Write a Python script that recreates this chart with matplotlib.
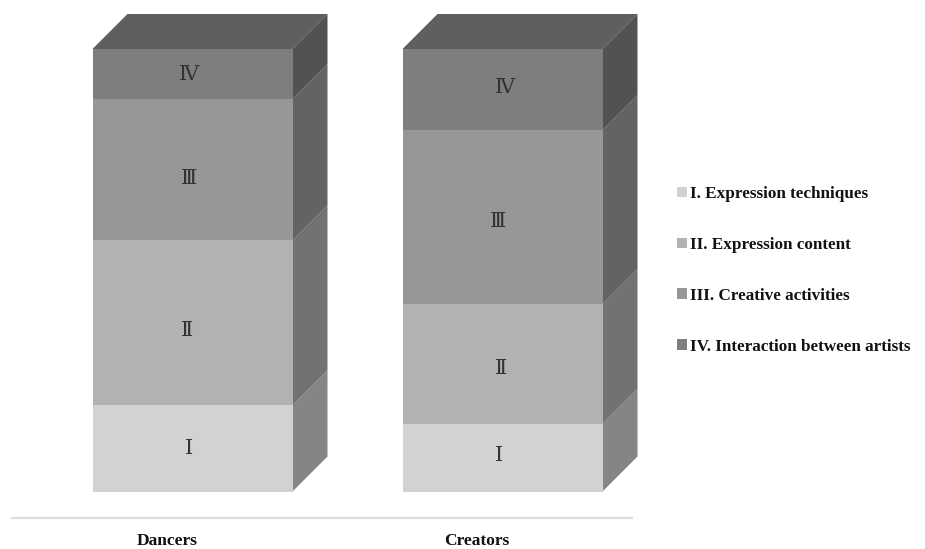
import matplotlib
matplotlib.use("Agg")
import matplotlib.pyplot as plt
from matplotlib.patches import Polygon, Patch

groups = ["Dancers", "Creators"]
series = ["I. Expression techniques", "II. Expression content",
          "III. Creative activities", "IV. Interaction between artists"]
marks = ["\u2160", "\u2161", "\u2162", "\u2163"]
dancers = [19.5, 37.3, 31.9, 11.3]
creators = [15.3, 27.1, 39.3, 18.3]
front = ["#d2d2d2", "#b2b2b2", "#979797", "#7e7e7e"]
side = ["#858585", "#727272", "#636363", "#525252"]
top_col = "#5f5f5f"

W, H = 925, 549
fig = plt.figure(figsize=(W / 100, H / 100), dpi=100, facecolor="white")
L, R, B, T = 12, 632, 518, 0
ax = fig.add_axes([L / W, 1 - B / H, (R - L) / W, (B - T) / H])
px_x = (R - L) / 2.0            # pixels per category
px_y = 442.5 / 100.0            # pixels per percent
ax.set_xlim(-0.5, 1.5)
ax.set_ylim(-(B - 491.5) / px_y, 100 + 49 / px_y)

shift = 25.5 / px_x
width = 200 / px_x
dx, dy = 35 / px_x, 35 / px_y
# small hand-placed label offsets in pixels (right, up), per group and segment
nudge = [[(-4, 0), (-6, -8), (-3, -9), (-3, 0)],
         [(-4, 2), (-2, -5), (-4, -5), (2, 2)]]

for i, vals in enumerate([dancers, creators]):
    xc = i + shift
    x0, x1 = xc - width / 2, xc + width / 2
    base = 0
    for v, fc, sc, m, (nx, ny) in zip(vals, front, side, marks, nudge[i]):
        ax.bar(xc, v, width=width, bottom=base, color=fc, linewidth=0, zorder=3)
        ax.add_patch(Polygon([(x1, base), (x1 + dx, base + dy), (x1 + dx, base + v + dy), (x1, base + v)],
                             closed=True, fc=sc, ec="none", zorder=2, clip_on=False))
        ax.text(xc + nx / px_x, base + v / 2 + ny / px_y, m, ha="center", va="center", fontsize=15,
                family=["DejaVu Serif", "DejaVu Sans"], color="#333333", zorder=4)
        base += v
    ax.add_patch(Polygon([(x0, base), (x1, base), (x1 + dx, base + dy), (x0 + dx, base + dy)],
                         closed=True, fc=top_col, ec="none", zorder=2, clip_on=False))

ax.set_xticks(range(len(groups)), groups, family="Liberation Serif", fontweight="bold",
              fontsize=12.5, color="#111111")
ax.tick_params(axis="x", length=0, pad=11)
ax.set_yticks([])
for s in ["top", "left", "right"]:
    ax.spines[s].set_visible(False)
ax.spines["bottom"].set_color("#dddddd")
ax.spines["bottom"].set_linewidth(1.6)
ax.patch.set_alpha(0)

handles = [Patch(fc=c, ec="none") for c in front]
fig.legend(handles, series, loc="upper left", bbox_to_anchor=(677 / W, 1 - 186 / H), borderaxespad=0,
           frameon=False, handlelength=0.58, handleheight=0.58, handletextpad=0.2, labelspacing=2.04,
           borderpad=0, prop={"family": "Liberation Serif", "weight": "bold", "size": 12.3},
           labelcolor="#111111")

fig.savefig("out.png", dpi=100, facecolor="white")
